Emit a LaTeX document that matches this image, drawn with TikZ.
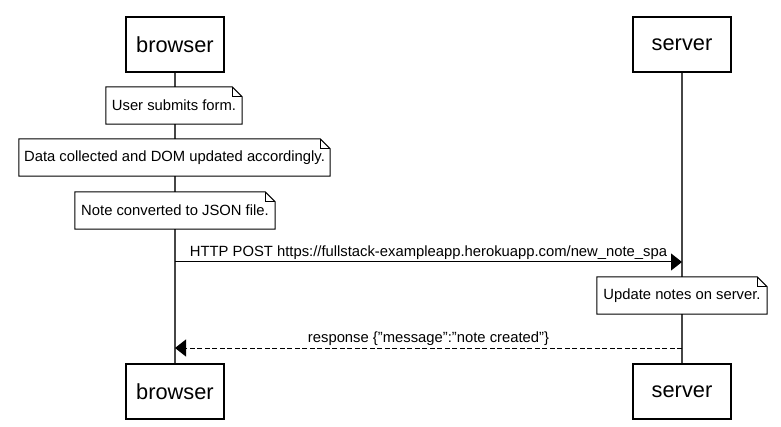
\documentclass[tikz,border=0pt]{standalone}
\usepackage{fontspec}
\setmainfont{Liberation Sans}
\usetikzlibrary{arrows.meta}
\definecolor{lifegray}{RGB}{70,70,70}

\begin{document}
\begin{tikzpicture}[x=1pt, y=-1pt,
    actor/.style={draw, line width=1.3pt, minimum width=98pt, minimum height=55pt,
                  font=\fontsize{21.8}{25}\selectfont},
    note/.style={fill=white, minimum height=37pt, inner xsep=5pt,
                 font=\fontsize{14.8}{17}\selectfont},
    msg/.style={line width=1pt, -{Triangle[length=11pt, width=17pt]}},
    lbl/.style={font=\fontsize{14.8}{17}\selectfont, inner sep=2pt}]
  \useasboundingbox (0,0) rectangle (781,427);

  % Actors, top and bottom
  \node[actor] (bt) at (175,44.5)  {browser};
  \node[actor] (st) at (682,44.5)  {server};
  \node[actor] (bb) at (175,391.5) {browser};
  \node[actor] (sb) at (682,391.5) {server};

  % Lifelines
  \draw[lifegray, line width=1.2pt] (bt) -- (bb);
  \draw[lifegray, line width=1.2pt] (st) -- (sb);

  % Notes
  \node[note, minimum width=136pt] (n1) at (174,105.5) {User submits form.};
  \node[note, minimum width=311pt] (n2) at (174.5,157.5) {Data collected and DOM updated accordingly.};
  \node[note, minimum width=200pt] (n3) at (175,210.5) {Note converted to JSON file.};
  \node[note, minimum width=170pt] (n4) at (682,295.5) {Update notes on server.};
  \foreach \n in {n1,n2,n3,n4} {
    \draw[line width=1pt] (\n.south west) -- (\n.south east) -- ([yshift=-10pt]\n.north east)
          -- ([xshift=-10pt]\n.north east) -- (\n.north west) -- cycle;
    \draw[line width=0.8pt] ([xshift=-10pt]\n.north east) |- ([yshift=-10pt]\n.north east);
  }

  % Messages
  \coordinate (bp) at (175,262);
  \coordinate (sp) at (682,262);
  \coordinate (br) at (175,348);
  \coordinate (sr) at (682,348);
  \draw[msg] (bp) -- node[lbl, above] {HTTP POST https://fullstack-exampleapp.herokuapp.com/new\_note\_spa} (sp);
  \draw[msg, dash pattern=on 5pt off 2.5pt] (sr) -- node[lbl, above] {response \{"message":"note created"\}} (br);
\end{tikzpicture}
\end{document}
